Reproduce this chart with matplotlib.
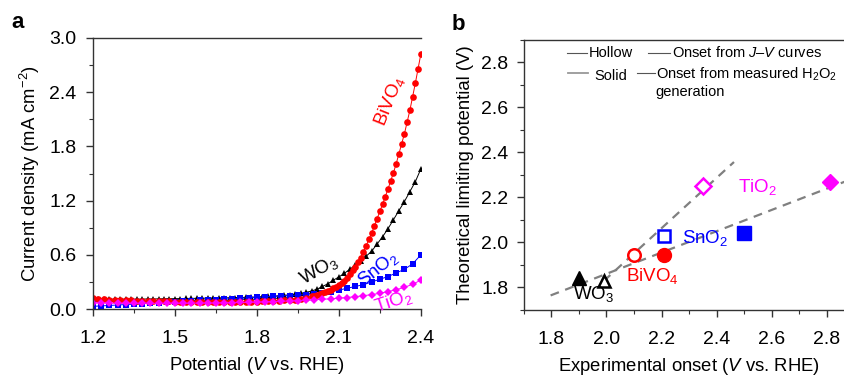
import numpy as np
import matplotlib
matplotlib.use("Agg")
import matplotlib.pyplot as plt
from matplotlib.lines import Line2D
from matplotlib.ticker import MultipleLocator

plt.rcParams['font.family'] = ['Liberation Sans', 'DejaVu Sans']
plt.rcParams['mathtext.fontset'] = 'custom'
plt.rcParams['mathtext.rm'] = 'Liberation Sans'
plt.rcParams['mathtext.it'] = 'Liberation Sans:italic'
plt.rcParams['mathtext.bf'] = 'Liberation Sans:bold'

## -----------------------------------------------
# DATA  (panel a: J-V curves)
## -----------------------------------------------
# potential grids (V vs. RHE)
v_fine = np.round(np.arange(1.20, 2.4001, 0.02), 2)     # WO3
v_coarse = np.round(np.arange(1.20, 2.4001, 0.03), 2)   # SnO2, TiO2
# BiVO4 was recorded denser above 2.0 V
v_bivo4 = np.concatenate([np.round(np.arange(1.20, 1.9901, 0.02), 2),
                          np.round(np.arange(2.00, 2.4001, 0.01), 2)])

j_bivo4 = [0.12, 0.115, 0.11, 0.105, 0.10, 0.10, 0.095, 0.095, 0.09, 0.09,
           0.09, 0.085, 0.085, 0.085, 0.085, 0.08, 0.08, 0.08, 0.08, 0.08,
           0.08, 0.08, 0.08, 0.08, 0.08, 0.08, 0.08, 0.08, 0.08, 0.08,
           0.08, 0.085, 0.085, 0.09, 0.09, 0.095, 0.10, 0.105, 0.115, 0.125,
           # 2.00 - 2.40 in 0.01 V steps
           0.14, 0.147, 0.155, 0.165, 0.175, 0.187, 0.20, 0.215, 0.23, 0.247,
           0.265, 0.285, 0.31, 0.345, 0.39, 0.43, 0.47, 0.52, 0.57, 0.635,
           0.70, 0.77, 0.84, 0.92, 1.00, 1.08, 1.16, 1.245, 1.33, 1.42,
           1.51, 1.61, 1.72, 1.83, 1.94, 2.07, 2.20, 2.35, 2.50, 2.66,
           2.82]

j_wo3 = [0.11, 0.11, 0.11, 0.11, 0.11, 0.11, 0.11, 0.11, 0.11, 0.11,
         0.112, 0.112, 0.113, 0.114, 0.115, 0.115, 0.116, 0.117, 0.118, 0.119,
         0.12, 0.121, 0.122, 0.123, 0.124, 0.125, 0.127, 0.128, 0.13, 0.132,
         0.134, 0.137, 0.14, 0.143, 0.147, 0.152, 0.158, 0.165, 0.173, 0.185,
         0.20, 0.22, 0.25, 0.28, 0.32, 0.355, 0.395, 0.44, 0.485, 0.535,
         0.585, 0.64, 0.72, 0.80, 0.89, 0.99, 1.09, 1.19, 1.30, 1.41,
         1.55]

j_sno2 = [0.03, 0.035, 0.04, 0.045, 0.05, 0.055, 0.06, 0.065, 0.07, 0.075,
          0.08, 0.085, 0.09, 0.095, 0.10, 0.105, 0.11, 0.115, 0.12, 0.125,
          0.13, 0.135, 0.14, 0.145, 0.15, 0.155, 0.16, 0.17, 0.18, 0.19,
          0.21, 0.23, 0.25, 0.27, 0.30, 0.33, 0.36, 0.40, 0.44, 0.50,
          0.60]

j_tio2 = [0.07, 0.068, 0.066, 0.065, 0.064, 0.063, 0.063, 0.063, 0.063, 0.063,
          0.064, 0.064, 0.065, 0.066, 0.067, 0.068, 0.07, 0.071, 0.073, 0.075,
          0.077, 0.08, 0.083, 0.086, 0.09, 0.094, 0.098, 0.103, 0.108, 0.114,
          0.12, 0.128, 0.137, 0.148, 0.16, 0.175, 0.193, 0.215, 0.24, 0.275,
          0.32]

## -----------------------------------------------
# DATA  (panel b: limiting potential vs onset)
## -----------------------------------------------
materials = ['WO$_3$', 'BiVO$_4$', 'SnO$_2$', 'TiO$_2$']
colors = ['black', '#ff0000', '#0000ff', '#ff00ff']
markers = ['^', 'o', 's', 'D']
onset_hollow = [1.99, 2.10, 2.21, 2.35]   # onset from J-V curves
onset_solid = [1.90, 2.21, 2.50, 2.81]    # onset from measured H2O2
limit_hollow = [1.83, 1.945, 2.03, 2.25]
limit_solid = [1.84, 1.945, 2.04, 2.27]

fit_hollow_x = [1.99, 2.463]
fit_hollow_y = [1.828, 2.357]
fit_solid_x = [1.797, 2.90]
fit_solid_y = [1.764, 2.286]

## -----------------------------------------------
# FIGURE
## -----------------------------------------------
fs_tick = 14
fs_lab = 13.3
fs_txt = 13.5
spine_c = '#333333'
fig = plt.figure(figsize=(8.45, 3.76), dpi=100)
ax1 = fig.add_axes([0.110, 0.178, 0.388, 0.721])
ax2 = fig.add_axes([0.620, 0.176, 0.391, 0.718])

# panel a
ax1.plot(v_fine, j_wo3, '-', color='black', lw=0.7, marker='^', ms=5.0, mew=0)
ax1.plot(v_coarse, j_sno2, '-', color='#0000ff', lw=0.7, marker='s', ms=4.2, mew=0)
ax1.plot(v_bivo4, j_bivo4, '-', color='#ff0000', lw=0.7, marker='o', ms=4.8, mew=0)
ax1.plot(v_coarse, j_tio2, '-', color='#ff00ff', lw=0.7, marker='D', ms=4.5, mew=0)
ax1.set_xlim(1.2, 2.4)
ax1.set_ylim(0, 3.0)
ax1.xaxis.set_major_locator(MultipleLocator(0.3))
ax1.xaxis.set_minor_locator(MultipleLocator(0.15))
ax1.yaxis.set_major_locator(MultipleLocator(0.6))
ax1.yaxis.set_minor_locator(MultipleLocator(0.3))
ax1.spines['right'].set_visible(False)
ax1.set_xlabel('Potential ($V$ vs. RHE)', fontsize=fs_lab, labelpad=6)
ax1.set_ylabel('Current density (mA cm$^{-2}$)', fontsize=fs_lab, labelpad=5)
ax1.tick_params(axis='x', pad=10)
ax1.tick_params(axis='y', pad=7)

ax1.text(2.025, 0.43, 'WO$_3$', color='black', fontsize=fs_txt, rotation=30,
         ha='center', va='center')
ax1.text(2.245, 0.44, 'SnO$_2$', color='#0000ff', fontsize=fs_txt, rotation=38,
         ha='center', va='center')
ax1.text(2.30, 0.08, 'TiO$_2$', color='#ff00ff', fontsize=fs_txt, rotation=18,
         ha='center', va='center')
ax1.text(2.285, 2.3, 'BiVO$_4$', color='#ff0000', fontsize=fs_txt, rotation=68,
         ha='center', va='center')

# panel b
ax2.plot(fit_hollow_x, fit_hollow_y, '--', color='#808080', lw=1.6, dashes=(4, 3))
ax2.plot(fit_solid_x, fit_solid_y, '--', color='#808080', lw=1.6, dashes=(4, 3))
for i in range(len(materials)):
    ax2.plot(onset_hollow[i], limit_hollow[i], marker=markers[i], ls='none',
             mfc='white', mec=colors[i], mew=1.8,
             ms=9 if markers[i] != 'D' else 8)
    ax2.plot(onset_solid[i], limit_solid[i], marker=markers[i], ls='none',
             mfc=colors[i], mec=colors[i], mew=1.0,
             ms=10 if markers[i] != 'D' else 8.5)

ax2.text(1.953, 1.77, 'WO$_3$', color='black', fontsize=fs_txt, ha='center', va='center')
ax2.text(2.167, 1.849, 'BiVO$_4$', color='#ff0000', fontsize=fs_txt, ha='center', va='center')
ax2.text(2.36, 2.018, 'SnO$_2$', color='#0000ff', fontsize=fs_txt, ha='center', va='center')
ax2.text(2.549, 2.244, 'TiO$_2$', color='#ff00ff', fontsize=fs_txt, ha='center', va='center')

ax2.set_xlim(1.7, 2.9)
ax2.set_ylim(1.7, 2.9)
ax2.xaxis.set_major_locator(MultipleLocator(0.2))
ax2.xaxis.set_minor_locator(MultipleLocator(0.1))
ax2.yaxis.set_major_locator(MultipleLocator(0.2))
ax2.yaxis.set_minor_locator(MultipleLocator(0.1))
ax2.set_xlabel('Experimental onset ($V$ vs. RHE)', fontsize=fs_lab, labelpad=6)
ax2.set_ylabel('Theoretical limiting potential (V)', fontsize=fs_lab, labelpad=5)
ax2.tick_params(axis='x', pad=10)
ax2.tick_params(axis='y', pad=6)

# legend, laid out by hand (axes fraction)
fs_leg = 10.5
leg_handles = [((0.130, 0.191), 0.952, '#555555', 0.8),
               ((0.375, 0.442), 0.952, '#555555', 0.8),
               ((0.133, 0.194), 0.878, '#999999', 1.3),
               ((0.342, 0.396), 0.878, '#555555', 0.8)]
for (x0, x1), y, c, w in leg_handles:
    ax2.add_line(Line2D([x0, x1], [y, y], color=c, lw=w,
                        transform=ax2.transAxes, clip_on=False))
ax2.text(0.197, 0.952, 'Hollow', fontsize=fs_leg, transform=ax2.transAxes, va='center')
ax2.text(0.448, 0.952, 'Onset from $J$–$V$ curves', fontsize=fs_leg,
         transform=ax2.transAxes, va='center')
ax2.text(0.212, 0.867, 'Solid', fontsize=fs_leg, transform=ax2.transAxes, va='center')
ax2.text(0.399, 0.872, 'Onset from measured H$_2$O$_2$', fontsize=fs_leg,
         transform=ax2.transAxes, va='center')
ax2.text(0.399, 0.806, 'generation', fontsize=fs_leg, transform=ax2.transAxes, va='center')

for ax in (ax1, ax2):
    for s in ax.spines.values():
        s.set_color(spine_c)
        s.set_linewidth(1.0)
    ax.tick_params(which='both', direction='out', colors=spine_c,
                   labelcolor='black', labelsize=fs_tick)
    ax.tick_params(which='major', length=5, width=1.0)
    ax.tick_params(which='minor', length=3, width=0.8)

fig.text(0.014, 0.925, 'a', fontsize=16, fontweight='bold')
fig.text(0.534, 0.92, 'b', fontsize=16, fontweight='bold')

fig.savefig('out.png', dpi=100)
